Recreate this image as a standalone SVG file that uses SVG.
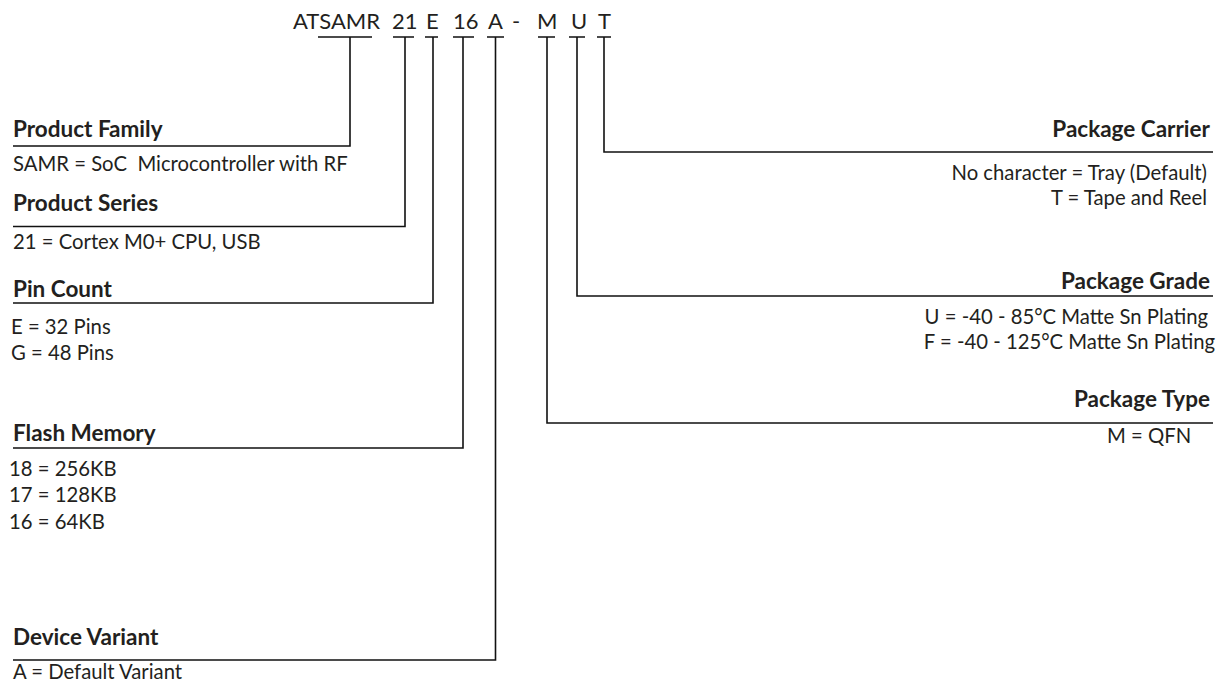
<svg xmlns="http://www.w3.org/2000/svg" width="1219" height="684" viewBox="0 0 1219 684">
<style>
text{font-family:Lato,"Open Sans","Liberation Sans",sans-serif;fill:#231f20;white-space:pre}
.pn{font-size:22px}
.h{font-size:22.5px;font-weight:bold}
.d{font-size:20.3px}
.r{text-anchor:end}
.c{fill:none;stroke:#111;stroke-width:1.6}
</style>
<rect width="1219" height="684" fill="#fff"/>
<g id="part-number">
<text class="pn" y="29"><tspan x="293">ATSAMR</tspan><tspan x="392">21</tspan><tspan x="426">E</tspan><tspan x="453">16</tspan><tspan x="488">A</tspan><tspan x="512">-</tspan><tspan x="537">M</tspan><tspan x="571">U</tspan><tspan x="598">T</tspan></text>
</g>
<g id="connectors">
<path class="c" d="M318 37H372M393 37H414M425 37H438M453 37H474M487 37H504M538 37H555M569 37H585M597 37H611"/>
<path class="c" d="M350 37V146H13"/>
<path class="c" d="M405 37V226.5H13"/>
<path class="c" d="M433 37V303H13"/>
<path class="c" d="M463 37V448H13"/>
<path class="c" d="M495.5 37V660H13"/>
<path class="c" d="M604 37V152H1213"/>
<path class="c" d="M577 37V296H1213"/>
<path class="c" d="M547 37V423H1213"/>
</g>
<g id="product-family">
<text class="h" x="13" y="137">Product Family</text>
<text class="d" x="13" y="171" xml:space="preserve">SAMR = SoC  Microcontroller with RF</text>
</g>
<g id="product-series">
<text class="h" x="13" y="211">Product Series</text>
<text class="d" x="13" y="249">21 = Cortex M0+ CPU, USB</text>
</g>
<g id="pin-count">
<text class="h" x="13" y="297">Pin Count</text>
<text class="d" x="11" y="334">E = 32 Pins</text>
<text class="d" x="11" y="360">G = 48 Pins</text>
</g>
<g id="flash-memory">
<text class="h" x="13" y="441">Flash Memory</text>
<text class="d" x="9" y="476">18 = 256KB</text>
<text class="d" x="9" y="502">17 = 128KB</text>
<text class="d" x="9" y="529">16 = 64KB</text>
</g>
<g id="device-variant">
<text class="h" x="13" y="645">Device Variant</text>
<text class="d" x="13" y="679">A = Default Variant</text>
</g>
<g id="package-carrier">
<text class="h r" x="1210" y="137">Package Carrier</text>
<text class="d r" x="1207" y="180">No character = Tray (Default)</text>
<text class="d r" x="1207" y="205">T = Tape and Reel</text>
</g>
<g id="package-grade">
<text class="h r" x="1210" y="289">Package Grade</text>
<text class="d r" x="1208" y="324">U = -40 - 85°C Matte Sn Plating</text>
<text class="d r" x="1215" y="349">F = -40 - 125°C Matte Sn Plating</text>
</g>
<g id="package-type">
<text class="h r" x="1210" y="407">Package Type</text>
<text class="d" x="1107" y="443">M = QFN</text>
</g>
</svg>
